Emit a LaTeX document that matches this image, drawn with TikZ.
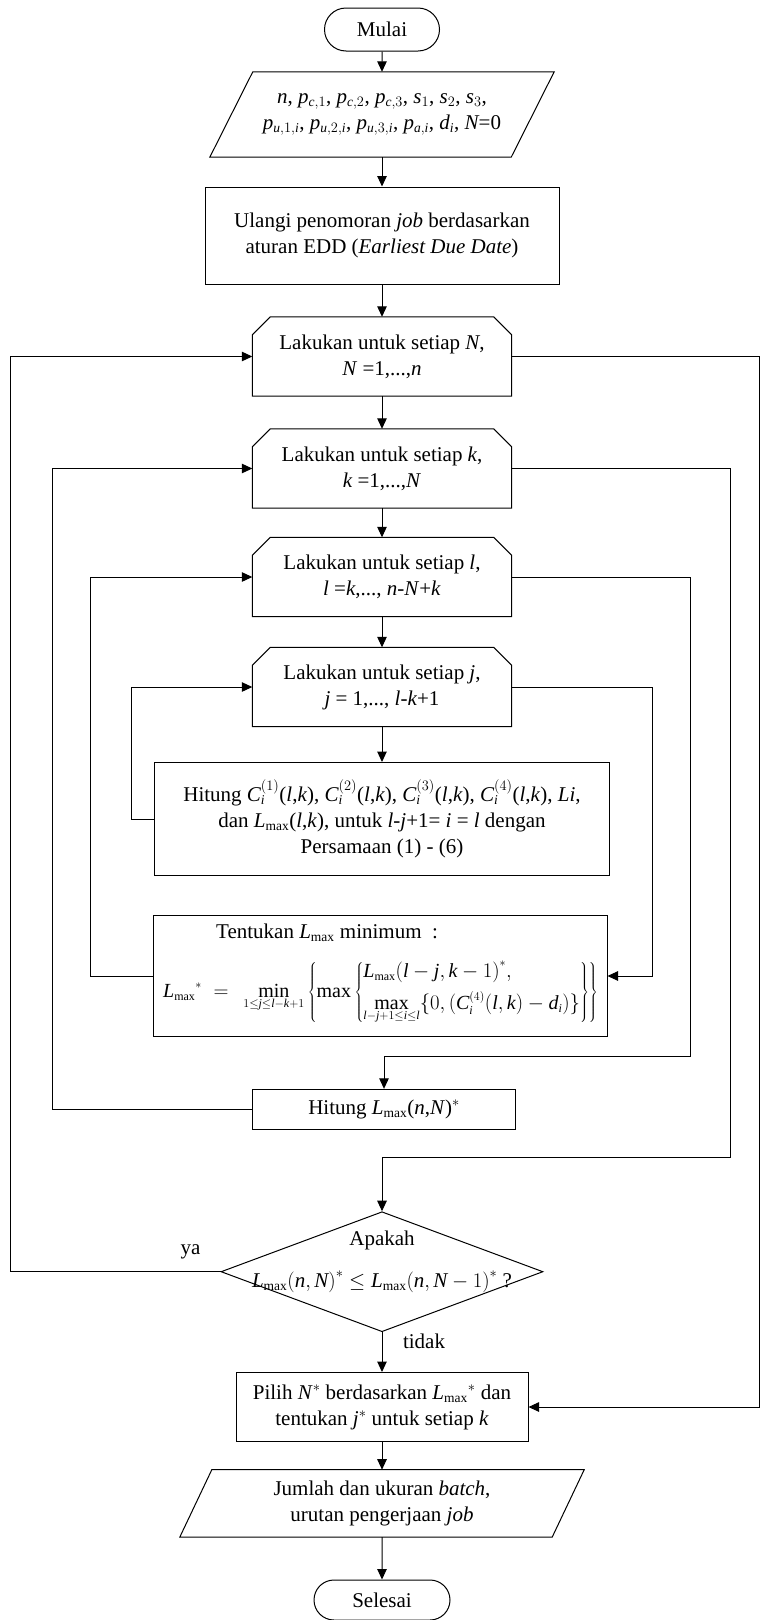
\documentclass[tikz,border=0pt]{standalone}
\usepackage{fontspec}
\setmainfont{Liberation Serif}
\DeclareSymbolFont{ltrs}{TU}{\rmdefault}{m}{it}
\newcommand{\mlt}[1]{\DeclareMathSymbol{#1}{\mathalpha}{ltrs}{`#1}}
\mlt a\mlt b\mlt c\mlt d\mlt e\mlt f\mlt g\mlt h\mlt i\mlt j\mlt k\mlt l\mlt m
\mlt n\mlt o\mlt p\mlt q\mlt r\mlt s\mlt t\mlt u\mlt v\mlt w\mlt x\mlt y\mlt z
\mlt A\mlt B\mlt C\mlt D\mlt E\mlt F\mlt G\mlt H\mlt I\mlt J\mlt K\mlt L\mlt M
\mlt N\mlt O\mlt P\mlt Q\mlt R\mlt S\mlt T\mlt U\mlt V\mlt W\mlt X\mlt Y\mlt Z
\DeclareMathSizes{21}{21}{13.5}{10}
\DeclareMathSizes{20}{20}{12}{9}
\usetikzlibrary{arrows.meta,shapes.geometric,shapes.misc,calc}
\newcommand{\myfs}{\fontsize{21}{26}\selectfont}
\newcommand{\formfs}{\fontsize{20}{24}\selectfont}
\newcommand{\hexdraw}[1]{\draw[ln] (#1.south west) -- ($(#1.north west)+(0,18)$) -- ($(#1.north west)+(18,0)$) -- ($(#1.north east)+(-18,0)$) -- ($(#1.north east)+(0,18)$) -- (#1.south east) -- cycle;}
\newcommand{\Lx}{\textit{L}$_{\max}$}
\begin{document}
\begin{tikzpicture}[x=1pt,y=-1pt,
  ln/.style={line width=1pt},
  arr/.style={line width=1pt,-{Triangle[length=10.5pt,width=9.5pt]}},
  base/.style={font=\myfs,align=center,inner sep=0pt},
  box/.style={base,draw,rectangle,line width=1pt},
  blank/.style={base,rectangle},
  term/.style={base,draw,rounded rectangle,line width=1pt},
  hexsize/.style={blank,minimum width=259,minimum height=79},
  lbl/.style={font=\myfs,inner sep=0pt}]
\fill[white] (0,0) rectangle (760,1620);
\useasboundingbox (0,0) rectangle (760,1620);

% nodes
\node[term,minimum width=115,minimum height=43] (mulai) at (382,29.5) {Mulai};
\node[blank,minimum width=344,minimum height=85] (inp) at (382,114.5)
  {$n$, $p_{c,1}$, $p_{c,2}$, $p_{c,3}$, $s_1$, $s_2$, $s_3$,\\
   $p_{u,1,i}$, $p_{u,2,i}$, $p_{u,3,i}$, $p_{a,i}$, $d_i$, $N$=0};
\draw[ln] ($(inp.north west)+(43,0)$) -- (inp.north east) -- ($(inp.south east)+(-43,0)$) -- (inp.south west) -- cycle;
\node[box,minimum width=354,minimum height=97] (edd) at (382,235.5)
  {Ulangi penomoran \textit{job} berdasarkan\\ aturan EDD (\textit{Earliest Due Date})};
\node[hexsize] (hexN) at (382,356.5) {Lakukan untuk setiap \textit{N},\\ \textit{N} =1,...,\textit{n}};
\hexdraw{hexN}
\node[hexsize] (hexk) at (382,468.5) {Lakukan untuk setiap \textit{k},\\ \textit{k} =1,...,\textit{N}};
\hexdraw{hexk}
\node[hexsize] (hexl) at (382,577) {Lakukan untuk setiap \textit{l},\\ \textit{l} =\textit{k},..., \textit{n}-\textit{N}+\textit{k}};
\hexdraw{hexl}
\node[hexsize] (hexj) at (382,687) {Lakukan untuk setiap \textit{j},\\ \textit{j} = 1,..., \textit{l}-\textit{k}+1};
\hexdraw{hexj}
\node[box,minimum width=455,minimum height=113] (hitC) at (382,819)
  {Hitung $C_i^{(1)}$(\textit{l},\textit{k}), $C_i^{(2)}$(\textit{l},\textit{k}), $C_i^{(3)}$(\textit{l},\textit{k}), $C_i^{(4)}$(\textit{l},\textit{k}), \textit{Li},\\
   dan \Lx(\textit{l},\textit{k}), untuk \textit{l}-\textit{j}+1= \textit{i} = \textit{l} dengan\\ Persamaan (1) - (6)};
\node[box,minimum width=454,minimum height=121] (tent) at (380,976) {};
\node[lbl,anchor=west] (tentT) at (216,933) {Tentukan \Lx\ minimum\ \ :};
\node[lbl,font=\formfs,anchor=west] (tentF) at (163,992)
  {$\displaystyle L_{\max}{}^{*}\;=\;\,\min_{1\le j\le l-k+1}\left\{\max\left\{\begin{array}{@{}l@{}}
     L_{\max}\bigl(l-j,k-1\bigr)^{*},\\[7pt]
     \displaystyle\max_{l-j+1\le i\le l}\{0,\bigl(C_i^{(4)}(l,k)-d_i\bigr)\}
   \end{array}\right\}\right\}$};
\node[box,minimum width=263,minimum height=40] (hitL) at (384,1109.3) {Hitung \Lx(\textit{n},\textit{N})$^{*}$};
\node[base,draw,diamond,line width=1pt,minimum width=322,minimum height=120] (dia) at (382,1271.7) {};
\node[lbl] (diaT1) at (382,1240) {Apakah};
\node[lbl] (diaT2) at (382,1282) {$L_{\max}\bigl(n,N\bigr)^{*}\le L_{\max}\bigl(n,N-1\bigr)^{*}$ ?};
\node[box,minimum width=292,minimum height=69] (pilih) at (382,1407)
  {Pilih \textit{N}$^{*}$ berdasarkan \Lx$^{*}$ dan\\ tentukan \textit{j}$^{*}$ untuk setiap \textit{k}};
\node[blank,minimum width=404,minimum height=67] (outp) at (382,1503.4)
  {Jumlah dan ukuran \textit{batch},\\ urutan pengerjaan \textit{job}};
\draw[ln] ($(outp.north west)+(32,0)$) -- (outp.north east) -- ($(outp.south east)+(-32,0)$) -- (outp.south west) -- cycle;
\node[term,minimum width=136,minimum height=40] (selesai) at (382,1600) {Selesai};

\node[lbl] (ya) at (190.5,1252) {ya};
\node[lbl] (tidak) at (424,1341) {tidak};

% loop coordinates
\coordinate (xNl) at (10.7,0);
\coordinate (xNr) at (759,0);
\coordinate (xkl) at (52.4,0);
\coordinate (xkr) at (730.5,1157.7);
\coordinate (xll) at (90.6,0);
\coordinate (xlr) at (690.7,1056.7);
\coordinate (xjl) at (131.8,0);
\coordinate (xjr) at (652,0);

% main flow
\draw[arr] (mulai) -- (inp);
\draw[arr] (inp) -- (edd);
\draw[arr] (edd) -- (hexN);
\draw[arr] (hexN) -- (hexk);
\draw[arr] (hexk) -- (hexl);
\draw[arr] (hexl) -- (hexj);
\draw[arr] (hexj) -- (hitC);
\draw[arr] (dia) -- (pilih);
\draw[arr] (pilih) -- (outp);
\draw[arr] (outp) -- (selesai);

% loops
\draw[arr] (hitC.west) -- (hitC.west -| xjl) |- (hexj.west);
\draw[arr] (hexj.east) -- (hexj.east -| xjr) |- (tent.east);
\draw[arr] (tent.west) -- (tent.west -| xll) |- (hexl.west);
\draw[arr] (hexl.east) -- (hexl.east -| xlr) -- (xlr) -| (hitL.north);
\draw[arr] (hitL.west) -- (hitL.west -| xkl) |- (hexk.west);
\draw[arr] (hexk.east) -- (hexk.east -| xkr) -- (xkr) -| (dia.north);
\draw[arr] (dia.west) -- (dia.west -| xNl) |- (hexN.west);
\draw[arr] (hexN.east) -- (hexN.east -| xNr) |- (pilih.east);
\end{tikzpicture}
\end{document}
